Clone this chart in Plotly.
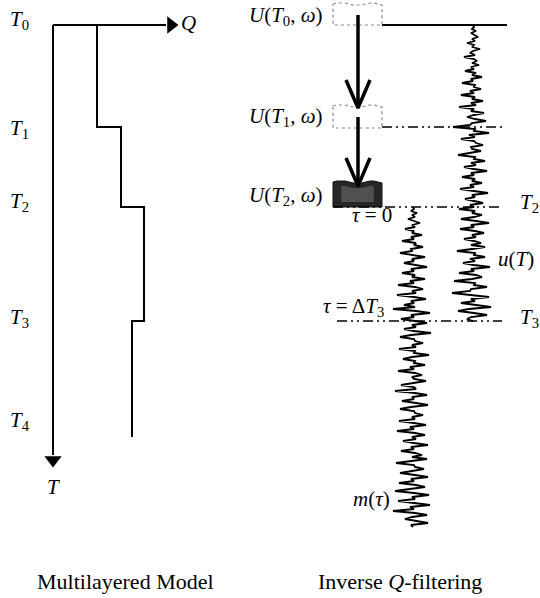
import plotly.graph_objects as go

# ---------------- data (diagram units: x to the right, time downward) ----------------
# Left panel: multilayered model
T_levels = [25, 127, 207, 321, 437]        # interface times T0..T4
Q_layers = [97, 121, 144, 132]             # Q value in each layer
T_names = ["T<sub>0</sub>", "T<sub>1</sub>", "T<sub>2</sub>", "T<sub>3</sub>", "T<sub>4</sub>"]
T_label_y = [20, 129, 202, 318, 421]

# Right panel: seismic traces (amplitude offsets, sampled every 2 time units)
u_start, m_start, dt = 25, 207, 2
u_amp = [0, 1, -1, 3, -2, 1, 5, -1, 2, -6,
         1, -1, 7, 0, -3, 2, -9, 1, 4, -1,
         6, -2, 1, -8, 3, -1, 9, -2, 0, -11,
         2, 1, 8, -3, 1, -12, 2, -1, 10, -2,
         3, -14, 1, -2, 11, 1, -6, 2, 13, -1,
         -3, -20, 2, 1, 16, -4, 2, -12, 1, 3,
         10, -2, -1, 8, -3, -15, 2, 1, 12, -2,
         3, -9, 1, 14, -2, 1, -11, 2, -1, 9,
         -3, 1, -13, 2, 15, -1, 2, -8, 1, 10,
         -3, 1, -14, 2, -1, 9, 1, -12, 3, 16,
         -2, 1, -13, 2, 11, -1, 3, -9, 1, 8,
         -2, 12, -1, -16, 2, 1, 12, -3, 2, -10,
         1, 17, -2, 1, -14, 3, 9, -1, -19, 2,
         1, 14, -2, -3, -21, 1, 16, -2, 2, -12,
         3, 18, -4, -15, 1, 14, -2, -6, 0]
m_amp = [0, 1, -2, 4, -1, 2, -5, 1, 7, -1,
         2, -8, 1, -1, 9, -2, 1, -11, 3, 1,
         10, -2, -1, -13, 2, 12, -1, 1, -9, 3,
         14, -2, 1, -11, 2, -1, 12, -3, 1, -15,
         2, 10, -1, 3, -16, 1, 13, -2, 1, -9,
         2, -20, 3, 17, -2, 1, -12, 2, 14, -1,
         3, -9, 1, 18, -2, -13, 1, 2, 10, -1,
         3, -14, 2, 1, 16, -1, -10, 2, 1, 12,
         -3, 1, -15, 2, 9, -1, 1, 13, -2, -12,
         1, 3, -18, 2, 14, -1, 1, -11, 3, 15,
         -2, -13, 1, 2, 10, -1, 2, -14, 1, 13,
         -3, 1, -16, 2, 12, -1, 3, -10, 1, 15,
         -2, 1, -12, 2, 9, -1, 14, -3, -17, 1,
         2, 11, -1, -13, 2, 15, -2, 1, -14, 3,
         12, -2, -18, 1, 16, -1, 2, -15, 3, 17,
         -3, 1, -20, 2, 14, -1, -8, 2, 15, -2,
         0]
u_center, m_center = 473, 413

# Wavefield boxes U(T, w)
box_left, box_right = 333, 382
box_wave = [0, -1, -1, -1, 0, 1, 1, 1, 0, -1, -1, 0, 1]
box_tops = [4, 106, 182]
box_bottoms = [25, 128, 207]

# ---------------- figure ----------------
FONT = "Liberation Serif, 'Times New Roman', serif"
fig = go.Figure()

def line(xs, ys, width=2, color="black", dash=None):
    fig.add_trace(go.Scatter(x=xs, y=ys, mode="lines", hoverinfo="skip",
                             line=dict(color=color, width=width, dash=dash)))

# time axis and Q axis of model
ax_x = 53
line([ax_x, ax_x], [T_levels[0], 455])
line([ax_x, 166], [T_levels[0], T_levels[0]])
fig.add_trace(go.Scatter(x=[ax_x], y=[460], mode="markers", hoverinfo="skip",
                         marker=dict(symbol="triangle-down", size=15, color="black")))
fig.add_trace(go.Scatter(x=[171], y=[T_levels[0]], mode="markers", hoverinfo="skip",
                         marker=dict(symbol="triangle-right", size=15, color="black")))

# step Q profile
sx, sy = [], []
for i, q in enumerate(Q_layers):
    sx += [q, q]
    sy += [T_levels[i], T_levels[i + 1]]
line(sx, sy, width=2)

# boxes
n = len(box_wave)
wx = [box_left + (box_right - box_left) * k / (n - 1) for k in range(n)]
for j in range(3):
    top = box_tops[j]
    bx = wx + [box_right, box_left, box_left]
    by = [top + w for w in box_wave] + [box_bottoms[j], box_bottoms[j], top]
    if j < 2:
        fig.add_trace(go.Scatter(x=bx, y=by, mode="lines", hoverinfo="skip",
                                 line=dict(color="#888", width=1.2, dash="dot")))
    else:
        fig.add_trace(go.Scatter(x=bx, y=by, mode="lines", fill="toself", hoverinfo="skip",
                                 fillcolor="#262626", line=dict(color="#111", width=1)))
        ix = [x for x in wx[2:-2]]
        iy = [top + 5 + w for w in box_wave[2:-2]]
        fig.add_trace(go.Scatter(x=ix + [ix[-1], ix[0], ix[0]],
                                 y=iy + [box_bottoms[j] - 5, box_bottoms[j] - 5, iy[0]],
                                 mode="lines", fill="toself", hoverinfo="skip",
                                 fillcolor="#505050", line=dict(color="#404040", width=0)))

# open arrows between boxes
arr_x = 358
for (y0, y1) in [(15, 107), (117, 185)]:
    line([arr_x, arr_x], [y0, y1], width=3.5)
    line([arr_x - 12, arr_x, arr_x + 12], [y1 - 27, y1 + 1, y1 - 27], width=3.5)

# T0 solid line and dash-dot interfaces
line([box_right, 507], [T_levels[0], T_levels[0]], width=1.8)
dd = "10px,4px,2px,4px,2px,4px"
line([box_right, 503], [T_levels[1], T_levels[1]], width=1.3, dash=dd)
line([box_left, 503], [T_levels[2], T_levels[2]], width=1.3, dash=dd)
line([337, 502], [T_levels[3], T_levels[3]], width=1.3, dash=dd)

# traces
line([u_center + a for a in u_amp], [u_start + dt * i for i in range(len(u_amp))], width=1.8)
line([m_center + a for a in m_amp], [m_start + dt * i for i in range(len(m_amp))], width=1.8)

# ---------------- text ----------------
def text(x, y, s, xanchor="center", size=21):
    fig.add_annotation(x=x, y=y, text=s, showarrow=False, xanchor=xanchor, yanchor="middle",
                       font=dict(family=FONT, size=size, color="black"))

for name, yy in zip(T_names, T_label_y):
    text(8, yy, "<i>" + name.replace("<sub>", "</i><sub>"), xanchor="left")
text(ax_x, 487, "<i>T</i>")
text(179, 23, "<i>Q</i>", xanchor="left")

text(325, 16, "<i>U</i>(<i>T</i><sub>0</sub>, <i>ω</i>)", xanchor="right")
text(325, 117, "<i>U</i>(<i>T</i><sub>1</sub>, <i>ω</i>)", xanchor="right")
text(325, 196, "<i>U</i>(<i>T</i><sub>2</sub>, <i>ω</i>)", xanchor="right")
text(518, 203, "<i>T</i><sub>2</sub>", xanchor="left")
text(518, 318, "<i>T</i><sub>3</sub>", xanchor="left")
text(496, 259, "<i>u</i>(<i>T</i>)", xanchor="left")
text(372, 215, "<i>τ</i> = 0")
text(353, 307, "<i>τ</i> = Δ<i>T</i><sub>3</sub>")
text(392, 499, "<i>m</i>(<i>τ</i>)", xanchor="right")

text(125, 581, "Multilayered Model", size=22)
text(400, 581, "Inverse <i>Q</i>-filtering", size=22)

fig.update_layout(
    width=540, height=598, margin=dict(l=0, r=0, t=0, b=0),
    showlegend=False, plot_bgcolor="white", paper_bgcolor="white",
    xaxis=dict(range=[0, 540], visible=False, fixedrange=True),
    yaxis=dict(range=[598, 0], visible=False, fixedrange=True),
)
fig.write_html("out.html", config={"displayModeBar": False},
               post_script="document.body.style.margin='0';document.body.style.overflow='hidden';")
